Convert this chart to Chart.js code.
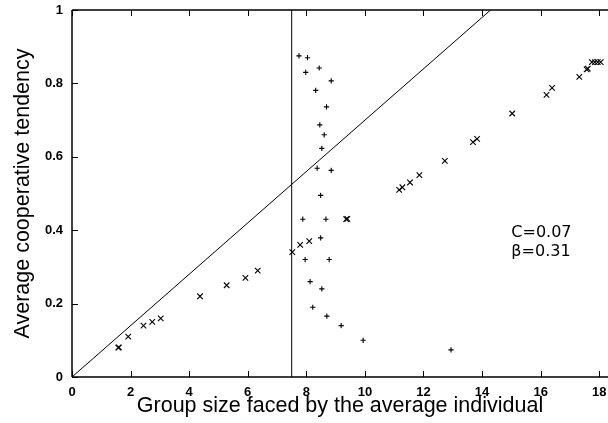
<!DOCTYPE html>
<html><head><meta charset="utf-8">
<script src="https://cdn.jsdelivr.net/npm/chart.js@4/dist/chart.umd.min.js"></script>
<style>html,body{margin:0;padding:0;background:#fff;}</style>
</head><body>
<canvas id="c" width="608" height="423"></canvas>
<script>
// ---- data ----
const crossX = [1.58, 1.60, 1.92, 2.44, 2.74, 3.03, 4.37, 5.28, 5.92, 6.34, 7.52, 7.79, 8.10, 9.36, 9.40, 11.17, 11.28, 11.54, 11.86, 12.73, 13.69, 13.83, 15.03, 16.20, 16.39, 17.32, 17.57, 17.61, 17.75, 17.85, 17.95, 18.05];
const crossY = [0.080, 0.081, 0.110, 0.140, 0.150, 0.160, 0.220, 0.250, 0.270, 0.290, 0.340, 0.360, 0.370, 0.430, 0.431, 0.510, 0.517, 0.530, 0.550, 0.589, 0.640, 0.649, 0.718, 0.769, 0.788, 0.818, 0.838, 0.840, 0.858, 0.858, 0.858, 0.858];
const plusX = [7.75, 8.04, 7.98, 8.44, 8.85, 8.32, 8.69, 8.46, 8.61, 8.53, 8.37, 8.85, 8.49, 7.88, 8.67, 8.49, 7.96, 8.78, 8.13, 8.53, 8.22, 8.70, 9.19, 9.94, 12.94];
const plusY = [0.875, 0.870, 0.830, 0.842, 0.807, 0.781, 0.736, 0.687, 0.660, 0.623, 0.569, 0.563, 0.495, 0.430, 0.430, 0.379, 0.320, 0.320, 0.260, 0.240, 0.190, 0.166, 0.140, 0.100, 0.074];
const diagX = [0, 14.29];
const diagY = [0, 1];
const vertX = [7.5, 7.5];
const vertY = [0, 1];
const xTicks = [0, 2, 4, 6, 8, 10, 12, 14, 16, 18];
const xTickLabels = ['0', '2', '4', '6', '8', '10', '12', '14', '16', '18'];
const yTicks = [0, 0.2, 0.4, 0.6, 0.8, 1];
const yTickLabels = ['0', '0.2', '0.4', '0.6', '0.8', '1'];
const xTitle = 'Group size faced by the average individual';
const yTitle = 'Average cooperative tendency';
const noteLines = ['C=0.07', 'β=0.31'];

const pts = (xs, ys) => xs.map((x, i) => ({x: x, y: ys[i]}));
const FONT = '"Liberation Sans", Arial, sans-serif';

const framePlugin = {
  id: 'frame',
  afterDatasetsDraw(chart) {
    const {ctx, chartArea: a, scales: {x, y}} = chart;
    ctx.save();
    ctx.strokeStyle = '#000';
    ctx.lineWidth = 1.5;
    ctx.beginPath();
    ctx.moveTo(a.left, a.top); ctx.lineTo(a.right, a.top);
    ctx.moveTo(a.left, a.top); ctx.lineTo(a.left, a.bottom);
    ctx.moveTo(a.left, a.bottom); ctx.lineTo(a.right, a.bottom);
    ctx.stroke();
    ctx.lineWidth = 1;
    ctx.beginPath();
    x.ticks.forEach(t => {
      const px = Math.round(x.getPixelForValue(t.value)) + 0.5;
      ctx.moveTo(px, a.bottom); ctx.lineTo(px, a.bottom - 6);
      ctx.moveTo(px, a.top); ctx.lineTo(px, a.top + 6);
    });
    y.ticks.forEach(t => {
      const py = Math.round(y.getPixelForValue(t.value)) + 0.5;
      ctx.moveTo(a.left, py); ctx.lineTo(a.left + 6, py);
    });
    ctx.stroke();
    // annotation
    ctx.fillStyle = '#000';
    ctx.font = '16px "DejaVu Sans", sans-serif';
    ctx.textBaseline = 'alphabetic';
    const nx = x.getPixelForValue(15.0);
    const ny = y.getPixelForValue(0.381);
    noteLines.forEach((s, i) => ctx.fillText(s, nx, ny + i * 19));
    ctx.restore();
  }
};

new Chart(document.getElementById('c'), {
  type: 'scatter',
  data: {
    datasets: [
      {label: 'x', data: pts(crossX, crossY), pointStyle: 'crossRot', pointRadius: 3.9, borderColor: '#000', backgroundColor: '#000', borderWidth: 1.1, showLine: false},
      {label: '+', data: pts(plusX, plusY), pointStyle: 'cross', pointRadius: 2.6, borderColor: '#000', backgroundColor: '#000', borderWidth: 1.1, showLine: false},
      {label: 'C', type: 'line', data: pts(diagX, diagY), borderColor: '#000', borderWidth: 1, pointRadius: 0, fill: false, tension: 0},
      {label: 'v', type: 'line', data: pts(vertX, vertY), borderColor: '#000', borderWidth: 1, pointRadius: 0, fill: false, tension: 0}
    ]
  },
  options: {
    responsive: false,
    animation: false,
    devicePixelRatio: 1,
    layout: {autoPadding: false, padding: {top: 10, right: 0, left: 0, bottom: 0}},
    plugins: {legend: {display: false}, tooltip: {enabled: false}},
    scales: {
      x: {
        type: 'linear', min: 0, max: 18.3,
        afterBuildTicks: s => { s.ticks = xTicks.map(v => ({value: v})); },
        afterFit: s => { s.height = 46; s.paddingLeft = 0; s.paddingRight = 0; },
        grid: {display: false, drawTicks: false, tickLength: 0},
        border: {display: false},
        ticks: {padding: 8, color: '#000', font: {family: FONT, size: 13, weight: 'bold'}, maxRotation: 0, autoSkip: false, includeBounds: false,
          callback: (v, i) => xTickLabels[i]},
        title: {display: true, text: xTitle, color: '#000', font: {family: FONT, size: 21.5}, padding: {top: 0, bottom: 4}}
      },
      y: {
        type: 'linear', min: 0, max: 1,
        afterBuildTicks: s => { s.ticks = yTicks.map(v => ({value: v})); },
        afterFit: s => { s.width = 72; s.paddingTop = 0; s.paddingBottom = 0; },
        grid: {display: false, drawTicks: false, tickLength: 0},
        border: {display: false},
        ticks: {padding: 9, color: '#000', font: {family: FONT, size: 13, weight: 'bold'}, autoSkip: false, includeBounds: false,
          callback: (v, i) => yTickLabels[i]},
        title: {display: true, text: yTitle, color: '#000', font: {family: FONT, size: 21.5}, padding: {top: 10, bottom: 0}}
      }
    }
  },
  plugins: [framePlugin]
});
</script>
</body></html>
